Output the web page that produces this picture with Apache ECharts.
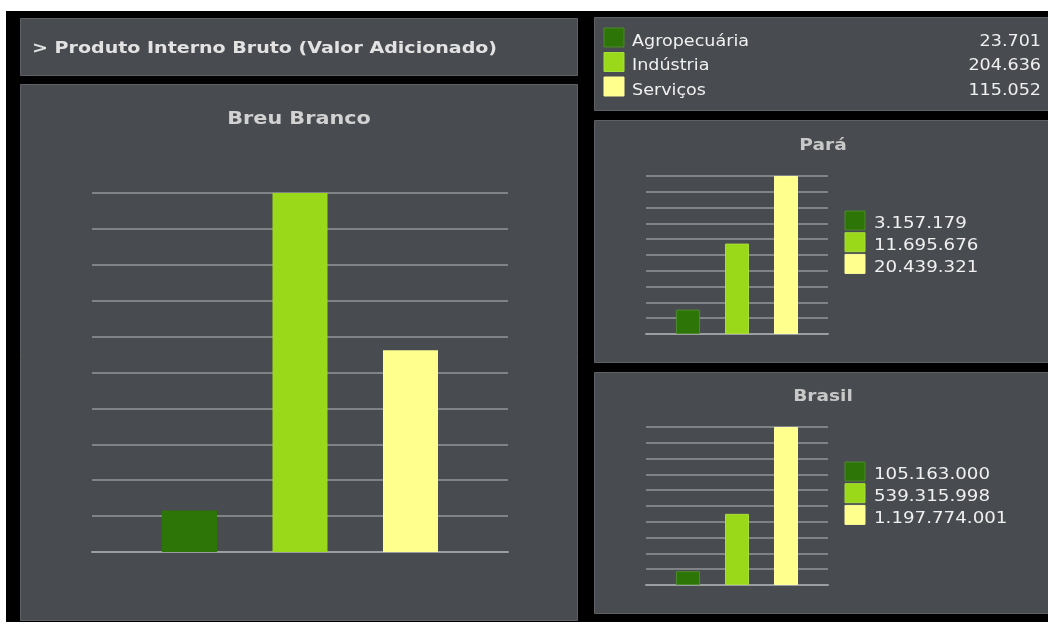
<!DOCTYPE html>
<html>
<head>
<meta charset="utf-8">
<script src="https://cdn.jsdelivr.net/npm/echarts@6/dist/echarts.min.js"></script>
<style>
  html, body { margin: 0; padding: 0; background: #fff; }
  #main { width: 1048px; height: 622px; }
</style>
</head>
<body>
<div id="main"></div>
<script>
// dados (R$ mil)
var categories = ['Agropecuária', 'Indústria', 'Serviços'];
var barColors = ['#2e7508', '#99d919', '#ffff8e'];
var breuBranco = [23701, 204636, 115052];
var para = [3157179, 11695676, 20439321];
var brasil = [105163000, 539315998, 1197774001];

var headerText = '> Produto Interno Bruto (Valor Adicionado)';
var chartTitles = ['Breu Branco', 'Pará', 'Brasil'];

var FONT = '"DejaVu Sans", Verdana, sans-serif';

function fmt(n) {
  return String(n).replace(/\B(?=(\d{3})+(?!\d))/g, '.');
}
function maxOf(arr) {
  return Math.max.apply(null, arr);
}

var myChart = echarts.init(document.getElementById('main'));

// posições dos gráficos (spacing = distância entre barras em px)
var grids = [
  { left: 92, top: 193, width: 416, height: 359, spacing: 110.5, barWidth: 55 },
  { left: 646, top: 176, width: 182, height: 158, spacing: 49, barWidth: 24 },
  { left: 646, top: 427, width: 182, height: 158, spacing: 49, barWidth: 24 }
];
var datasets = [breuBranco, para, brasil];

var xAxes = [], yAxes = [], series = [];
grids.forEach(function (g, i) {
  var d = datasets[i];
  var mx = maxOf(d);
  var pad = (g.width / g.spacing - (categories.length - 1)) / 2;
  xAxes.push({
    type: 'value',
    gridIndex: i,
    min: -pad,
    max: categories.length - 1 + pad,
    axisLine: { show: true, lineStyle: { color: '#9c9fa1', width: 2 } },
    axisTick: { show: false },
    axisLabel: { show: false },
    splitLine: { show: false }
  });
  yAxes.push({
    type: 'value',
    gridIndex: i,
    min: 0,
    max: mx,
    interval: mx / 10,
    axisLine: { show: false },
    axisTick: { show: false },
    axisLabel: { show: false },
    splitLine: { lineStyle: { color: '#7f8386', width: 2 } }
  });
  series.push({
    type: 'bar',
    name: chartTitles[i],
    xAxisIndex: i,
    yAxisIndex: i,
    barWidth: g.barWidth,
    silent: true,
    data: d.map(function (v, k) {
      return {
        name: categories[k],
        value: [k, v],
        itemStyle: {
          color: barColors[k],
          borderColor: i === 0 ? barColors[k] : echarts.color.lift(barColors[k], 0.15),
          borderWidth: i === 0 ? 0 : 1
        }
      };
    })
  });
});

var panelStyle = { fill: '#484b4f', stroke: '#5e6164', lineWidth: 1 };
var graphic = [
  { type: 'rect', z: -10, shape: { x: 6, y: 11, width: 1042, height: 611 }, style: { fill: '#000' } },
  { type: 'rect', z: -5, shape: { x: 20.5, y: 18.5, width: 557, height: 57 }, style: panelStyle },
  { type: 'rect', z: -5, shape: { x: 20.5, y: 84.5, width: 557, height: 536 }, style: panelStyle },
  { type: 'rect', z: -5, shape: { x: 594.5, y: 17.5, width: 460, height: 93 }, style: panelStyle },
  { type: 'rect', z: -5, shape: { x: 594.5, y: 120.5, width: 460, height: 242 }, style: panelStyle },
  { type: 'rect', z: -5, shape: { x: 594.5, y: 372.5, width: 460, height: 241 }, style: panelStyle },
  {
    type: 'text', x: 32, y: 49, scaleX: 1.19,
    style: { text: headerText, font: 'bold 16px ' + FONT, fill: '#e2e2e2', verticalAlign: 'middle' }
  },
  {
    type: 'text', x: 299, y: 120, scaleX: 1.22,
    style: { text: chartTitles[0], font: 'bold 17px ' + FONT, fill: '#d2d2d2', align: 'center', verticalAlign: 'middle' }
  },
  {
    type: 'text', x: 823, y: 146, scaleX: 1.24,
    style: { text: chartTitles[1], font: 'bold 15px ' + FONT, fill: '#c8c8c8', align: 'center', verticalAlign: 'middle' }
  },
  {
    type: 'text', x: 823, y: 397, scaleX: 1.24,
    style: { text: chartTitles[2], font: 'bold 15px ' + FONT, fill: '#c8c8c8', align: 'center', verticalAlign: 'middle' }
  }
];

// legenda principal (Breu Branco)
categories.forEach(function (c, k) {
  var y = 28 + k * 24.5;
  graphic.push({
    type: 'rect', shape: { x: 604, y: y, width: 20, height: 19 },
    style: { fill: barColors[k], stroke: echarts.color.lift(barColors[k], 0.15), lineWidth: 1 }
  });
  graphic.push({
    type: 'text', x: 632, y: y + 14, scaleX: 1.17,
    style: { text: c, font: '15px ' + FONT, fill: '#f0f0f0', verticalAlign: 'middle' }
  });
  graphic.push({
    type: 'text', x: 1041, y: y + 14, scaleX: 1.17,
    style: { text: fmt(breuBranco[k]), font: '15px ' + FONT, fill: '#f0f0f0', align: 'right', verticalAlign: 'middle' }
  });
});

// legendas Pará e Brasil
[[para, 211], [brasil, 462]].forEach(function (p) {
  p[0].forEach(function (v, k) {
    var y = p[1] + k * 21.7;
    graphic.push({
      type: 'rect', shape: { x: 845, y: y, width: 20, height: 19 },
      style: { fill: barColors[k], stroke: echarts.color.lift(barColors[k], 0.15), lineWidth: 1 }
    });
    graphic.push({
      type: 'text', x: 874, y: y + 13, scaleX: 1.14,
      style: { text: fmt(v), font: '16px ' + FONT, fill: '#f0f0f0', verticalAlign: 'middle' }
    });
  });
});

var option = {
  animation: false,
  backgroundColor: '#fff',
  grid: grids.map(function (g) {
    return { left: g.left, top: g.top, width: g.width, height: g.height };
  }),
  xAxis: xAxes,
  yAxis: yAxes,
  series: series,
  graphic: graphic
};

myChart.setOption(option);
</script>
</body>
</html>
